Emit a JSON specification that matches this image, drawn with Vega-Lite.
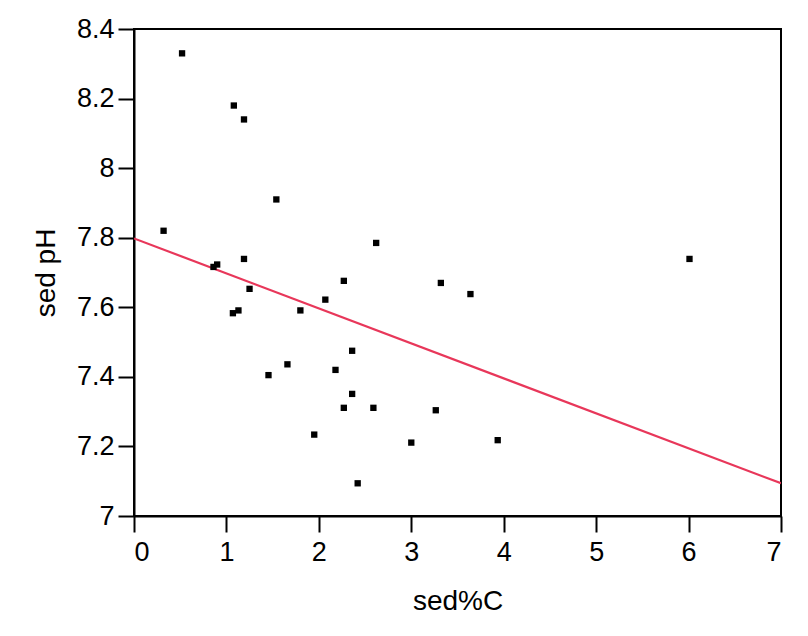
{
  "$schema": "https://vega.github.io/schema/vega-lite/v6.json",
  "width": 647,
  "height": 487,
  "autosize": {"type": "none"},
  "padding": {"left": 134, "top": 29, "right": 27, "bottom": 120},
  "background": "white",
  "config": {
    "view": {"stroke": "black", "strokeWidth": 2},
    "font": "Liberation Sans",
    "axis": {
      "grid": false,
      "domainColor": "black",
      "domainWidth": 2,
      "tickColor": "black",
      "tickWidth": 2,
      "tickSize": 16,
      "labelFont": "Liberation Sans",
      "labelFontSize": 27,
      "labelColor": "black",
      "titleFont": "Liberation Sans",
      "titleFontSize": 28,
      "titleFontWeight": "normal",
      "titleColor": "black"
    }
  },
  "datasets": {
    "pts": [
      {"c": 0.52, "ph": 8.33},
      {"c": 1.08, "ph": 8.18},
      {"c": 1.19, "ph": 8.14},
      {"c": 1.54, "ph": 7.91},
      {"c": 0.32, "ph": 7.82},
      {"c": 2.62, "ph": 7.785},
      {"c": 0.9, "ph": 7.723},
      {"c": 0.86, "ph": 7.716},
      {"c": 1.19, "ph": 7.739},
      {"c": 2.27, "ph": 7.676},
      {"c": 3.32, "ph": 7.67},
      {"c": 3.64, "ph": 7.638},
      {"c": 1.25, "ph": 7.653},
      {"c": 2.07, "ph": 7.622},
      {"c": 1.07, "ph": 7.583},
      {"c": 1.13, "ph": 7.591},
      {"c": 1.8, "ph": 7.591},
      {"c": 2.36, "ph": 7.475},
      {"c": 1.66, "ph": 7.436},
      {"c": 2.18, "ph": 7.42},
      {"c": 1.455, "ph": 7.405},
      {"c": 2.36, "ph": 7.351},
      {"c": 2.27, "ph": 7.311},
      {"c": 2.59, "ph": 7.311},
      {"c": 3.265, "ph": 7.304},
      {"c": 1.95, "ph": 7.234},
      {"c": 3.0, "ph": 7.211},
      {"c": 3.935, "ph": 7.218},
      {"c": 2.42, "ph": 7.094},
      {"c": 6.01, "ph": 7.739}
    ],
    "fit": [
      {"c": 0, "ph": 7.798},
      {"c": 7, "ph": 7.094}
    ]
  },
  "layer": [
    {
      "data": {"name": "fit"},
      "mark": {"type": "line", "color": "#e8375a", "strokeWidth": 2.2, "clip": true},
      "encoding": {
        "x": {"field": "c", "type": "quantitative"},
        "y": {"field": "ph", "type": "quantitative"}
      }
    },
    {
      "data": {"name": "pts"},
      "mark": {"type": "point", "shape": "square", "filled": true, "color": "black", "opacity": 1, "size": 40},
      "encoding": {
        "x": {
          "field": "c", "type": "quantitative",
          "scale": {"domain": [0, 7], "nice": false, "zero": false},
          "axis": {"title": "sed%C", "values": [0, 1, 2, 3, 4, 5, 6, 7], "labelPadding": 7, "titlePadding": 22, "labelExpr": "'' + datum.value"}
        },
        "y": {
          "field": "ph", "type": "quantitative",
          "scale": {"domain": [7, 8.4], "nice": false, "zero": false},
          "axis": {"title": "sed pH", "values": [7, 7.2, 7.4, 7.6, 7.8, 8, 8.2, 8.4], "labelPadding": 4, "titlePadding": 16, "labelExpr": "'' + datum.value"}
        }
      }
    }
  ]
}
